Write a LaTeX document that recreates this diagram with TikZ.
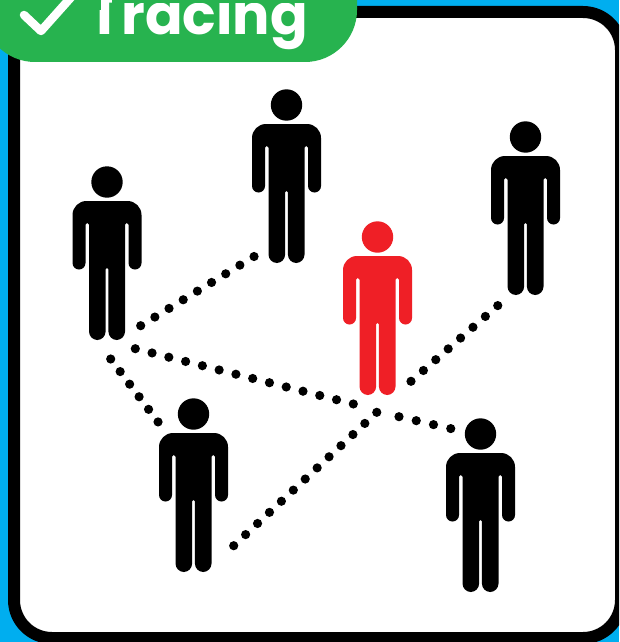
\documentclass[tikz,border=0pt]{standalone}
\usepackage{fontspec}
\setmainfont{Poppins}
\definecolor{skycyan}{HTML}{00AEEF}
\definecolor{badgegreen}{HTML}{27B34F}
\definecolor{figred}{HTML}{EF1F26}
\tikzset{
  dotline/.style={line width=9.2pt, line cap=round, dash pattern=on 0pt off #1pt},
  head/.style={circle, inner sep=0pt, minimum size=31.4pt},
  pics/person/.style={code={
    \node[head, fill=#1] (-head) at (0,0) {};
    \fill[#1, rounded corners=14pt] (0,19) -- (34.5,19)
      [rounded corners=6.5pt] -- (34.5,87.5) -- (21.5,87.5)
      [rounded corners=1.7pt] -- (21.5,41) -- (18,41)
      [rounded corners=8.5pt] -- (18,158) -- (1.4,158)
      [rounded corners=1.3pt] -- (1.4,86) -- (-1.4,86)
      [rounded corners=8.5pt] -- (-1.4,158) -- (-18,158)
      [rounded corners=1.7pt] -- (-18,41) -- (-21.5,41)
      [rounded corners=6.5pt] -- (-21.5,87.5) -- (-34.5,87.5)
      [rounded corners=14pt] -- (-34.5,19) -- cycle;
  }},
  pics/person/.default=black,
}
\begin{document}
\begin{tikzpicture}[x=1pt, y=-1pt]
\useasboundingbox (0,0) rectangle (619,642);
\clip (0,0) rectangle (619,642);
\fill[skycyan] (0,0) rectangle (619,642);
\draw[line width=12pt, fill=white, rounded corners=38pt] (14,12) rectangle (621,638);
% badge
\fill[badgegreen, rounded corners=52pt] (-17,-70) rectangle (357,62);
\draw[white, line width=8.5pt, line cap=round, line join=round] (24,15) -- (41,31) -- (74,-6);
\begin{scope}
\clip (80,10) -- (101,10) -- (101,-1) -- (111,-1) -- (111,10) -- (122,10) -- (122,3) -- (320,3) -- (320,55) -- (80,55) -- cycle;
\node[font=\fontsize{55.5}{55.5}\selectfont\bfseries, text=white, anchor=base west, inner sep=0pt] (title) at (88.5,35) {Tracing};
\end{scope}
% people
\pic (pa) at (107,182) {person};
\pic (pb) at (286.5,105) {person};
\pic (pc) at (525.5,137) {person};
\pic (pd) at (377.5,237) {person=figred};
\pic (pe) at (193.5,414) {person};
\pic (pf) at (480.5,434) {person};
% dotted links
\coordinate (ab1) at (140.7,325.7);
\coordinate (ab2) at (254.4,256.3);
\coordinate (ae1) at (110.7,359);
\coordinate (ae2) at (158.1,422);
\coordinate (af1) at (135.3,348.7);
\coordinate (af2) at (353.4,404);
\coordinate (af3) at (399,416.7);
\coordinate (af4) at (451.2,428.7);
\coordinate (ed1) at (233.7,545.7);
\coordinate (ed2) at (377.1,412);
\coordinate (dc1) at (411,381.3);
\coordinate (dc2) at (498.1,305.3);
\draw[dotline=16.6] (ab1) -- (ab2);
\draw[dotline=15.75] (ae1) -- (ae2);
\draw[dotline=17.3] (af1) -- (af2);
\draw[dotline=17.7] (af3) -- (af4);
\draw[dotline=16.3] (ed1) -- (ed2);
\draw[dotline=16.45] (dc1) -- (dc2);
\end{tikzpicture}
\end{document}
